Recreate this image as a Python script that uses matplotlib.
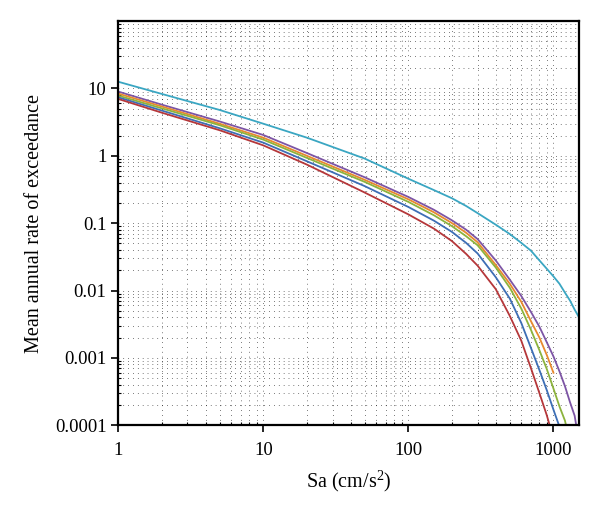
import numpy as np
import matplotlib
matplotlib.use("Agg")
import matplotlib.pyplot as plt
from matplotlib.ticker import FixedLocator, FixedFormatter, LogLocator, NullFormatter

plt.rcParams['font.family'] = ['Liberation Serif', 'DejaVu Serif']
plt.rcParams['mathtext.fontset'] = 'custom'
plt.rcParams['mathtext.rm'] = 'Liberation Serif'
plt.rcParams['mathtext.it'] = 'Liberation Serif:italic'

nan = np.nan
sa = [1, 2, 5, 10, 20, 50, 100, 150, 200, 250, 300, 400, 500, 600, 700, 800, 900,
      1000, 1100, 1200, 1300, 1400, 1500]

cyan = [12.6, 8.3, 4.8, 3.0, 1.86, 0.91, 0.457, 0.31, 0.234, 0.18, 0.141, 0.095,
        0.069, 0.051, 0.039, 0.028, 0.021, 0.0162, 0.0126, 0.0093, 0.0071,
        0.0052, 0.0040]
purple = [9.0, 5.75, 3.24, 2.04, 1.10, 0.48, 0.245, 0.158, 0.110, 0.080, 0.058,
          0.028, 0.0145, 0.0083, 0.0048, 0.0029, 0.0017, 0.00105, 0.00063,
          0.00038, 0.00022, 0.000138, 0.000056]
orange = [8.4, 5.4, 3.0, 1.86, 1.0, 0.44, 0.226, 0.145, 0.100, 0.072, 0.052,
          0.024, 0.0126, 0.0068, 0.0035, 0.0020, 0.0011, 0.0006,
          nan, nan, nan, nan, nan]
green = [7.85, 5.07, 2.85, 1.74, 0.93, 0.41, 0.207, 0.131, 0.090, 0.064, 0.047,
         0.022, 0.011, 0.0054, 0.0026, 0.0013, 0.00068, 0.00035, 0.00019,
         0.000117, 0.000056, nan, nan]
blue = [7.4, 4.7, 2.57, 1.57, 0.83, 0.355, 0.174, 0.109, 0.074, 0.051, 0.0355,
        0.0158, 0.0076, 0.0033, 0.0014, 0.00066, 0.00033, 0.00017, 0.000095,
        0.00005, nan, nan, nan]
red = [7.0, 4.37, 2.4, 1.43, 0.74, 0.285, 0.135, 0.083, 0.054, 0.035, 0.0234,
       0.0105, 0.0042, 0.0018, 0.0007, 0.0003, 0.00014, 0.000063,
       nan, nan, nan, nan, nan]

series = [
    (cyan, '#3aa6c2'),
    (purple, '#7d55a5'),
    (orange, '#e8892e'),
    (green, '#8cb33d'),
    (blue, '#3d6eb5'),
    (red, '#b5373a'),
]

x_ticks = [1, 10, 100, 1000]
x_labels = ['1', '10', '100', '1000']
y_ticks = [0.0001, 0.001, 0.01, 0.1, 1, 10]
y_labels = ['0.0001', '0.001', '0.01', '0.1', '1', '10']

fig = plt.figure(figsize=(6.0, 5.16), dpi=100)
ax = fig.add_axes([0.197, 0.176, 0.768, 0.783])

for vals, col in series:
    ax.plot(sa, vals, color=col, linewidth=1.3)

ax.set_xscale('log')
ax.set_yscale('log')
ax.set_xlim(1, 1500)
ax.set_ylim(1e-4, 100)

ax.xaxis.set_major_locator(FixedLocator(x_ticks))
ax.xaxis.set_major_formatter(FixedFormatter(x_labels))
ax.yaxis.set_major_locator(FixedLocator(y_ticks))
ax.yaxis.set_major_formatter(FixedFormatter(y_labels))
ax.xaxis.set_minor_locator(LogLocator(base=10, subs=np.arange(2, 10), numticks=20))
ax.yaxis.set_minor_locator(LogLocator(base=10, subs=np.arange(2, 10), numticks=20))
ax.xaxis.set_minor_formatter(NullFormatter())
ax.yaxis.set_minor_formatter(NullFormatter())

ax.grid(True, which='both', color='black', linestyle=(0, (1, 6)), linewidth=0.5)
ax.tick_params(which='major', direction='out', length=5, width=1.2, labelsize=13.5,
               top=False, right=False)
ax.tick_params(axis='x', which='major', pad=7)
ax.tick_params(which='minor', direction='in', length=2.5, width=0.8,
               top=False, right=False)
for sp in ax.spines.values():
    sp.set_linewidth(1.6)

ax.set_xlabel(r'Sa (cm/s$^{2}$)', fontsize=14.5, labelpad=7)
ax.set_ylabel('Mean annual rate of exceedance', fontsize=14.5, labelpad=8)

fig.savefig('out.png', dpi=100)
